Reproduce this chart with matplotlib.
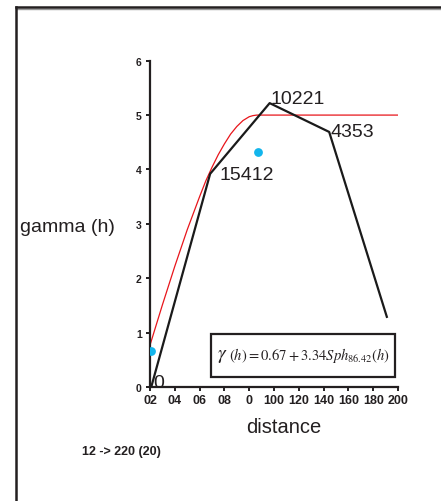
import matplotlib
matplotlib.use("Agg")
import matplotlib.pyplot as plt
from matplotlib.patches import Rectangle
from matplotlib.lines import Line2D

plt.rcParams['font.family'] = ['Liberation Sans', 'DejaVu Sans']
plt.rcParams['mathtext.fontset'] = 'stix'

# experimental variogram (distance, gamma, number of pairs)
exp_dist = [1, 48.5, 96.5, 144.5, 191]
exp_gamma = [0, 3.92, 5.22, 4.69, 1.29]
exp_pairs = ["0", "15412", "10221", "4353", ""]
# label offsets in pixels
lab_dx = [2, 9, 1, 1, 0]
lab_dy = [0, -5, 0, -4, 0]

# model curve
mod_dist = [0, 5, 10, 20, 30, 40, 45, 50, 55, 60, 65, 70, 75, 80, 83, 86, 200]
mod_gamma = [0.77, 1.14, 1.51, 2.22, 2.89, 3.50, 3.79, 4.04, 4.27, 4.47, 4.65,
             4.79, 4.90, 4.97, 4.99, 5.0, 5.0]

# blue points
pt_dist = [1, 87]
pt_gamma = [0.67, 4.33]

xticks = [0, 20, 40, 60, 80, 100, 120, 140, 160, 180, 200]
xticklabels = ["02", "04", "06", "08", "0", "100", "120", "140", "160", "180", "200"]
yticks = [0, 1, 2, 3, 4, 5, 6]

W, H = 441, 502
fig = plt.figure(figsize=(W / 100, H / 100), dpi=100)
ax = fig.add_axes([150 / W, 1 - 388 / H, 248 / W, (388 - 61.7) / H])

ax.plot(mod_dist, mod_gamma, color="#e8151b", lw=0.9, zorder=2)
ax.plot(exp_dist, exp_gamma, color="#1a1a1a", lw=1.6, zorder=3)
ax.scatter(pt_dist, pt_gamma, s=40, color="#12b5ec", zorder=4, linewidths=0)

px = 72 / 100
for x, y, t, dx, dy in zip(exp_dist, exp_gamma, exp_pairs, lab_dx, lab_dy):
    if t:
        ax.annotate(t, (x, y), xytext=(dx * px, dy * px), textcoords="offset points",
                    ha="left", va="baseline", fontsize=14, color="#231f20")

# formula box
ax.add_patch(Rectangle((49.3, 0.18), 147.9, 0.79, fill=False, lw=1.6,
                       edgecolor="#231f20", zorder=5))
ax.text(54, 0.575, r"$\gamma$", ha="left", va="center", fontsize=14,
        color="#231f20", zorder=6)
ax.text(128.5, 0.59, r"$(h) = 0.67 + 3.34Sph_{86.42}(h)$", ha="center",
        va="center", fontsize=10.5, color="#231f20", zorder=6)

ax.set_xlim(0, 200)
ax.set_ylim(0, 6)
ax.set_xticks(xticks)
ax.set_xticklabels(xticklabels)
ax.set_yticks(yticks)
for s in ["top", "right"]:
    ax.spines[s].set_visible(False)
for s in ["left", "bottom"]:
    ax.spines[s].set_linewidth(1.6)
    ax.spines[s].set_color("#231f20")
ax.tick_params(axis="x", length=3, width=1.4, labelsize=9, pad=2, colors="#231f20")
ax.tick_params(axis="y", length=3, width=1.4, labelsize=7.5, pad=3, colors="#231f20")
for lab in ax.get_xticklabels() + ax.get_yticklabels():
    lab.set_fontweight("bold")

fig.text(284 / W, 1 - 428 / H, "distance", ha="center", va="center", fontsize=14.5, color="#231f20")
fig.text(20 / W, 1 - 228 / H, "gamma (h)", ha="left", va="center", fontsize=14, color="#231f20")
fig.text(82 / W, 1 - 452.5 / H, "12 -> 220 (20)", ha="left", va="center", fontsize=9,
         fontweight="bold", color="#231f20")

# outer frame (top and left edges)
fig.add_artist(Line2D([15.5 / W, 1], [1 - 9.5 / H, 1 - 9.5 / H], color="#999999", lw=1.0))
fig.add_artist(Line2D([15.5 / W, 1], [1 - 8 / H, 1 - 8 / H], color="#231f20", lw=1.8))
fig.add_artist(Line2D([15.5 / W, 15.5 / W], [0, 1 - 8 / H], color="#231f20", lw=1.8))

fig.savefig("out.png", dpi=100)
